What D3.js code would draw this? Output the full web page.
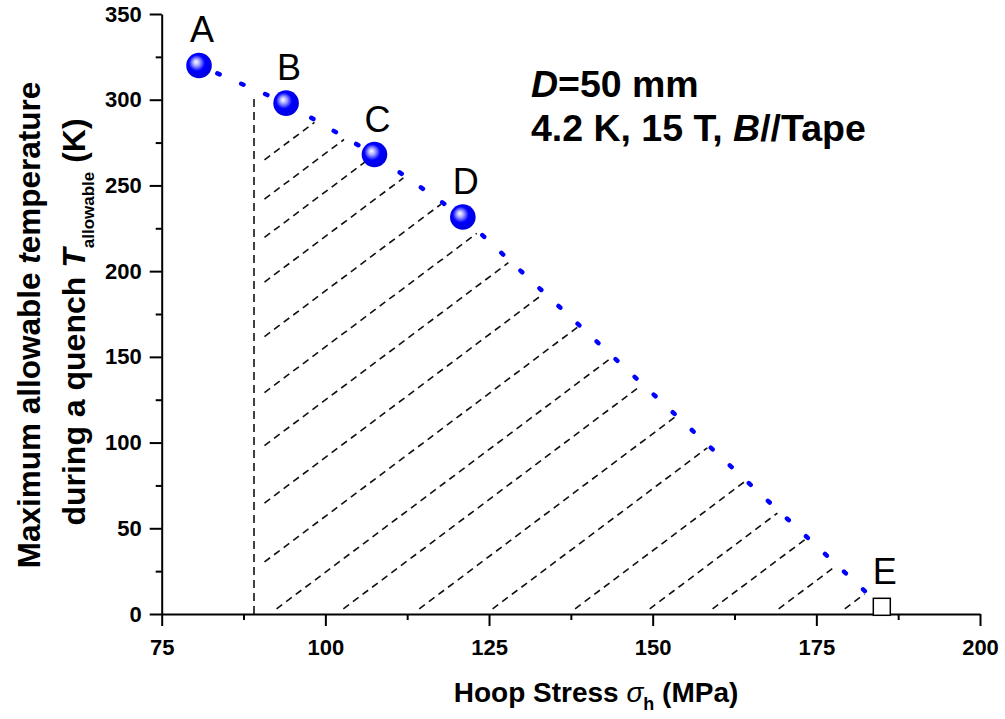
<!DOCTYPE html>
<html>
<head>
<meta charset="utf-8">
<script src="https://cdn.jsdelivr.net/npm/d3@7"></script>
<style>
  body { margin: 0; background: #fff; }
  text { font-family: Arial, "Liberation Sans", sans-serif; }
</style>
</head>
<body>
<div id="chart"></div>
<script>
// measured points (hoop stress in MPa, allowable temperature in K)
const pointLabels = ["A", "B", "C", "D"];
const pointStress = [80.7, 94.0, 107.5, 121.0];
const pointTemp = [320, 298, 268, 231.6];

// end point E (hollow square)
const endLabel = "E";
const endStress = 185.0;
const endTemp = 4.2;

// left boundary of hatched area
const limitStress = 89.1;

// hatch lines: x-intercepts (MPa) of parallel dashed lines, shared slope (K/MPa)
const hatchIntercepts = [-1.8, 6.2, 14.0, 23.1, 34.2, 45.6, 56.4, 68.1, 80.1,
  91.5, 101.7, 113.3, 124.5, 137.1, 148.5, 158.1, 168.2, 178.3];
const hatchSlope = 2.864;

const xTicks = [75, 100, 125, 150, 175, 200];
const xMinor = [87.5, 112.5, 137.5, 162.5, 187.5];
const yTicks = [0, 50, 100, 150, 200, 250, 300, 350];
const yMinor = [25, 75, 125, 175, 225, 275, 325];

const W = 1005, H = 719;
const margin = {top: 14, right: 25, bottom: 105, left: 161.7};

const svg = d3.select("#chart").append("svg")
  .attr("width", W).attr("height", H);

const x = d3.scaleLinear().domain([75, 200]).range([margin.left, W - margin.right]);
const y = d3.scaleLinear().domain([0, 350]).range([H - margin.bottom, margin.top]);

// polyline A-B-C-D-E
const line = pointStress.map((s, i) => [s, pointTemp[i]]).concat([[endStress, endTemp]]);

function lineAt(xv) {
  for (let i = 0; i < line.length - 1; i++) {
    const [x0, y0] = line[i], [x1, y1] = line[i + 1];
    if (xv >= x0 && xv <= x1) return y0 + (y1 - y0) * (xv - x0) / (x1 - x0);
  }
  return null;
}

// intersection of hatch line with the polyline
function hatchEnd(x0) {
  for (let i = 0; i < line.length - 1; i++) {
    const [xa, ya] = line[i], [xb, yb] = line[i + 1];
    const m = (yb - ya) / (xb - xa);
    const xi = (ya - m * xa + hatchSlope * x0) / (hatchSlope - m);
    if (xi >= xa && xi <= xb) return xi;
  }
  return null;
}

const g = svg.append("g");

// hatch
const hatchData = hatchIntercepts.map(x0 => {
  let xs = Math.max(limitStress + 1.6, x0 + 3 / hatchSlope);
  let xe = hatchEnd(x0);
  const px1 = x(xs), py1 = y(hatchSlope * (xs - x0));
  let px2 = x(xe), py2 = y(hatchSlope * (xe - x0));
  // pull the end back a little
  const len = Math.hypot(px2 - px1, py2 - py1);
  const k = (len - 2.5) / len;
  px2 = px1 + (px2 - px1) * k; py2 = py1 + (py2 - py1) * k;
  return [px1, py1, px2, py2];
});

g.selectAll(".hatch").data(hatchData).enter().append("line")
  .attr("class", "hatch")
  .attr("x1", d => d[0]).attr("y1", d => d[1])
  .attr("x2", d => d[2]).attr("y2", d => d[3])
  .attr("stroke", "#111").attr("stroke-width", 1.6)
  .attr("stroke-dasharray", "7,5");

g.append("line")
  .attr("x1", x(limitStress)).attr("x2", x(limitStress))
  .attr("y1", y(0)).attr("y2", y(lineAt(limitStress) - 3))
  .attr("stroke", "#111").attr("stroke-width", 1.6)
  .attr("stroke-dasharray", "8,5");

// blue dotted polyline
g.append("path")
  .datum(line)
  .attr("d", d3.line().x(d => x(d[0])).y(d => y(d[1])))
  .attr("fill", "none")
  .attr("stroke", "#0000ff")
  .attr("stroke-width", 4.5)
  .attr("stroke-linecap", "round")
  .attr("stroke-dasharray", "2.5,23.5")
  .attr("stroke-dashoffset", -20);

// axes
const axisColor = "#000";
const xAxis = svg.append("g").attr("transform", `translate(0,${y(0)})`)
  .call(d3.axisBottom(x).tickValues(xTicks).tickSize(12).tickSizeOuter(0).tickPadding(8));
svg.append("g").attr("transform", `translate(0,${y(0)})`)
  .call(d3.axisBottom(x).tickValues(xMinor).tickSize(6).tickFormat(""))
  .call(a => a.select(".domain").remove());
const yAxis = svg.append("g").attr("transform", `translate(${x(75)},0)`)
  .call(d3.axisLeft(y).tickValues(yTicks).tickSize(12).tickSizeOuter(0).tickPadding(8));
svg.append("g").attr("transform", `translate(${x(75)},0)`)
  .call(d3.axisLeft(y).tickValues(yMinor).tickSize(6).tickFormat(""))
  .call(a => a.select(".domain").remove());

svg.selectAll(".domain").attr("stroke", axisColor).attr("stroke-width", 2);
svg.selectAll(".tick line").attr("stroke", axisColor).attr("stroke-width", 2);
svg.selectAll(".tick text")
  .attr("fill", "#000")
  .style("font-size", "22px").style("font-weight", "bold")
  .style("font-family", "Arial, 'Liberation Sans', sans-serif");
xAxis.selectAll(".tick text").attr("dy", "0.95em");

// end square
svg.append("rect")
  .attr("x", x(endStress) - 8.5).attr("y", y(endTemp) - 8.5)
  .attr("width", 17).attr("height", 17)
  .attr("fill", "#fff").attr("stroke", "#000").attr("stroke-width", 1.5);

// spheres
const defs = svg.append("defs");
const grad = defs.append("radialGradient").attr("id", "ball")
  .attr("cx", "45%").attr("cy", "45%").attr("r", "60%")
  .attr("fx", "38%").attr("fy", "36%");
grad.append("stop").attr("offset", "0%").attr("stop-color", "#ffffff");
grad.append("stop").attr("offset", "22%").attr("stop-color", "#a8a8ff");
grad.append("stop").attr("offset", "52%").attr("stop-color", "#0000ff");
grad.append("stop").attr("offset", "100%").attr("stop-color", "#0000d8");

svg.selectAll(".ball").data(pointStress).enter().append("circle")
  .attr("class", "ball")
  .attr("cx", d => x(d)).attr("cy", (d, i) => y(pointTemp[i]))
  .attr("r", 12.8)
  .attr("fill", "url(#ball)");

// point labels
const labelData = pointLabels.map((l, i) => [l, pointStress[i], pointTemp[i]])
  .concat([[endLabel, endStress, endTemp]]);
svg.selectAll(".plabel").data(labelData).enter().append("text")
  .attr("class", "plabel")
  .attr("x", d => x(d[1]) + 3).attr("y", d => y(d[2]) - 23)
  .attr("text-anchor", "middle")
  .style("font-size", "36px")
  .text(d => d[0]);

// annotation
const note = svg.append("text")
  .attr("x", x(131.4)).attr("y", y(301.6))
  .style("font-size", "37.5px").style("font-weight", "bold");
note.append("tspan").style("font-style", "italic").text("D");
note.append("tspan").text("=50 mm");
const note2 = svg.append("text")
  .attr("x", x(131.4)).attr("y", y(276))
  .style("font-size", "37.5px").style("font-weight", "bold");
note2.append("tspan").text("4.2 K, 15 T, ");
note2.append("tspan").style("font-style", "italic").text("B");
note2.append("tspan").text("//Tape");

// x title
const xt = svg.append("text")
  .attr("x", 596).attr("y", 702)
  .attr("text-anchor", "middle")
  .style("font-size", "28px").style("font-weight", "bold");
xt.append("tspan").text("Hoop Stress ");
xt.append("tspan").style("font-style", "italic").style("font-weight", "normal").text("σ");
xt.append("tspan").attr("dy", 8).style("font-size", "18px").text("h");
xt.append("tspan").attr("dy", -8).text(" (MPa)");

// y title
const yt1 = svg.append("text")
  .attr("transform", "translate(40,325) rotate(-90)")
  .attr("text-anchor", "middle")
  .style("font-size", "31.5px").style("font-weight", "bold");
yt1.append("tspan").text("Maximum allowable ");
yt1.append("tspan").style("font-style", "italic").text("t");
yt1.append("tspan").text("emperature");

const yt2 = svg.append("text")
  .attr("transform", "translate(85,322) rotate(-90)")
  .attr("text-anchor", "middle")
  .style("font-size", "32px").style("font-weight", "bold");
yt2.append("tspan").text("during a quench ");
yt2.append("tspan").style("font-style", "italic").text("T");
yt2.append("tspan").attr("dy", 9).style("font-size", "17px").text("allowable");
yt2.append("tspan").attr("dy", -9).text(" (K)");
</script>
</body>
</html>
